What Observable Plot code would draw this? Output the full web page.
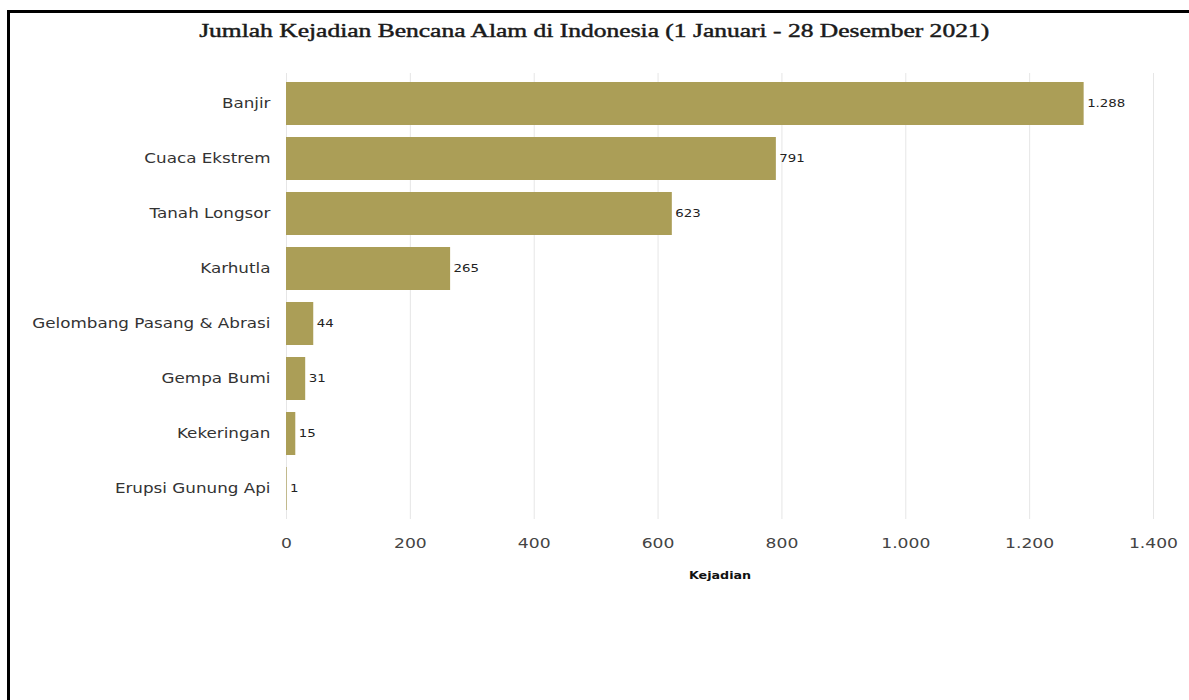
<!DOCTYPE html>
<html>
<head>
<meta charset="utf-8">
<script src="https://cdn.jsdelivr.net/npm/d3@7"></script>
<script src="https://cdn.jsdelivr.net/npm/@observablehq/plot@0.6"></script>
<style>
  html, body { margin: 0; padding: 0; background: #fff; width: 1189px; height: 700px; overflow: hidden; }
  #frame { position: absolute; left: 7px; top: 10px; width: 1200px; height: 720px; border-left: 3px solid #000; border-top: 3px solid #000; }
  #title { position: absolute; left: 0; top: 20px; width: 1189px; text-align: center; font-family: "Liberation Serif", "DejaVu Serif", serif; font-size: 19px; color: #1a1a1a; font-weight: normal; -webkit-text-stroke: 0.45px #1a1a1a; }
  #title span { display: inline-block; transform-origin: center; white-space: nowrap; }
  #chart { position: absolute; left: 0; top: 60px; }
</style>
</head>
<body>
<div id="frame"></div>
<div id="title"><span id="titleText">Jumlah Kejadian Bencana Alam di Indonesia (1 Januari - 28 Desember 2021)</span></div>
<div id="chart"></div>
<script>
const categories = ["Banjir", "Cuaca Ekstrem", "Tanah Longsor", "Karhutla", "Gelombang Pasang & Abrasi", "Gempa Bumi", "Kekeringan", "Erupsi Gunung Api"];
const values = [1288, 791, 623, 265, 44, 31, 15, 1];
const xTicks = [0, 200, 400, 600, 800, 1000, 1200, 1400];
const xLabel = "Kejadian";

const data = categories.map((c, i) => ({category: c, value: values[i]}));
const fmt = d => d3.format(",")(d).replace(/,/g, ".");

const chart = Plot.plot({
  width: 1189,
  height: 560,
  marginTop: 13,
  marginLeft: 286,
  marginRight: 36,
  marginBottom: 101,
  style: {fontFamily: "'DejaVu Sans', Verdana, sans-serif", color: "#333", background: "transparent"},
  x: {domain: [0, 1400]},
  y: {domain: categories, paddingInner: 0.22, paddingOuter: 0.11},
  marks: [
    Plot.gridX(xTicks, {stroke: "#e6e6e6", strokeOpacity: 1}),
    Plot.barX(data, {x: "value", y: "category", fill: "#ab9e57"}),
    Plot.text(data, {x: "value", y: "category", text: d => fmt(d.value), textAnchor: "start", dx: 3, fontSize: 10.5, fill: "#222"}),
    Plot.axisX({ticks: xTicks, tickFormat: fmt, tickSize: 0, tickPadding: 19, fontSize: 13.5, fill: "#444",
      label: xLabel, labelAnchor: "center", labelOffset: 59, labelArrow: "none"}),
    Plot.axisY({tickSize: 0, tickPadding: 16, fontSize: 13.2, fill: "#333", label: null})
  ]
});
document.getElementById("chart").appendChild(chart);

const svg = d3.select(chart);
svg.selectAll("[aria-label='x-axis label'] text").style("font-weight", "bold").style("font-size", "10px").attr("fill", "#111");

// the reference's text is horizontally stretched; reproduce that around each text's anchor
const S = 1.27;
svg.selectAll("text").each(function() {
  const t = d3.select(this);
  const xa = t.attr("x");
  const x = (xa != null && isFinite(+xa)) ? +xa : 0;
  const tr = t.attr("transform") || "";
  t.attr("transform", `${tr} translate(${x},0) scale(${S},1) translate(${-x},0)`);
});

// title stretched to the reference's width
const span = document.getElementById("titleText");
const w = span.getBoundingClientRect().width;
span.style.transform = `scaleX(${790 / w})`;
</script>
</body>
</html>
